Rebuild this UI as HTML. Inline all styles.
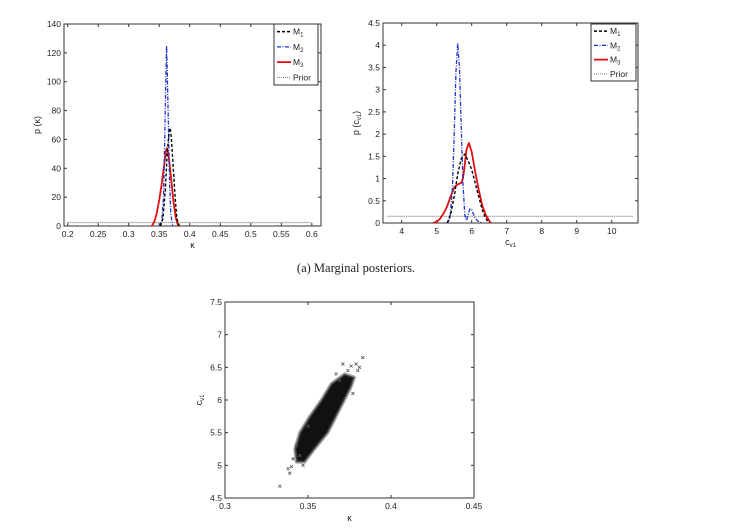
<!DOCTYPE html>
<html><head><meta charset="utf-8">
<style>
html,body{margin:0;padding:0;background:#fff;}
svg{display:block;}
text{font-family:"Liberation Sans",sans-serif;fill:#222;}
</style></head>
<body>
<svg id="fig" width="730" height="530" viewBox="0 0 730 530"></svg>
<script>
// ---- Panel 1 data (kappa marginal) ----
const k_xTicks=[0.2,0.25,0.3,0.35,0.4,0.45,0.5,0.55,0.6];
const k_xTickLabels=["0.2","0.25","0.3","0.35","0.4","0.45","0.5","0.55","0.6"];
const k_yTicks=[0,20,40,60,80,100,120,140];
const k_m1x=[0.352,0.356,0.36,0.363,0.366,0.368,0.370,0.373,0.376,0.379,0.383];
const k_m1y=[0,5,25,50,65,68,60,40,20,5,0];
const k_m2x=[0.350,0.354,0.357,0.359,0.361,0.362,0.363,0.365,0.367,0.369,0.372];
const k_m2y=[0,3,20,60,105,125,110,70,30,8,0];
const k_m3x=[0.338,0.342,0.346,0.350,0.354,0.358,0.361,0.3625,0.365,0.369,0.373,0.377,0.381];
const k_m3y=[0,3,9,18,29,42,52,54,50,35,18,6,0];
const k_priorx=[0.2,0.6];
const k_priory=[2.4,2.4];
// ---- Panel 2 data (cv1 marginal) ----
const c_xTicks=[4,5,6,7,8,9,10];
const c_yTicks=[0,0.5,1,1.5,2,2.5,3,3.5,4,4.5];
const c_m1x=[5.3,5.4,5.5,5.6,5.7,5.8,5.9,6.0,6.1,6.2,6.3,6.4,6.5];
const c_m1y=[0,0.2,0.6,1.1,1.45,1.55,1.4,1.2,0.9,0.6,0.3,0.1,0];
const c_m2x=[5.3,5.38,5.45,5.5,5.55,5.6,5.65,5.7,5.75,5.8,5.85,5.9,5.95,6.0,6.05,6.1,6.2,6.3];
const c_m2y=[0,0.1,0.8,2.0,3.4,4.05,3.5,2.2,0.9,0.2,0.05,0.2,0.32,0.3,0.2,0.1,0.03,0];
const c_m3x=[4.9,5.0,5.1,5.2,5.3,5.4,5.5,5.6,5.7,5.75,5.8,5.85,5.92,6.0,6.1,6.2,6.3,6.4,6.5,6.55];
const c_m3y=[0,0.03,0.1,0.22,0.38,0.6,0.8,0.87,0.9,1.0,1.3,1.65,1.8,1.6,1.15,0.75,0.4,0.18,0.05,0];
const c_priorx=[3.6,10.6];
const c_priory=[0.15,0.15];
// ---- Panel 3 data (joint scatter) ----
const s_xTicks=[0.3,0.35,0.4,0.45];
const s_yTicks=[4.5,5,5.5,6,6.5,7,7.5];
const s_coreK=[0.343,0.342,0.345,0.351,0.358,0.364,0.372,0.378,0.376,0.372,0.367,0.362,0.354,0.348];
const s_coreC=[5.05,5.25,5.5,5.75,6.0,6.25,6.4,6.35,6.2,6.0,5.75,5.5,5.25,5.05];
const s_ptK=[0.333,0.339,0.340,0.383,0.381,0.379,0.376,0.371,0.345,0.338,0.367,0.380,0.341,0.374,0.347,0.343,0.377,0.350,0.369];
const s_ptC=[4.68,4.88,4.98,6.65,6.5,6.55,6.52,6.55,5.15,4.95,6.4,6.45,5.1,6.45,5.0,5.3,6.1,5.6,6.3];

const NS="http://www.w3.org/2000/svg";
const svg=document.getElementById('fig');
function mk(tag,attrs,parent){const e=document.createElementNS(NS,tag);for(const k in attrs)e.setAttribute(k,attrs[k]);(parent||svg).appendChild(e);return e;}
function lin(d0,d1,r0,r1){return v=>r0+(v-d0)/(d1-d0)*(r1-r0);}

function axes(g,L,T,R,B,sx,sy,xt,xl,yt,yl,name){
  const box=mk('rect',{x:L,y:T,width:R-L,height:B-T,fill:'none',stroke:'#333','stroke-width':1},g);
  
  
  xt.forEach((v,i)=>{const x=sx(v);
    mk('line',{x1:x,y1:B,x2:x,y2:B-3,stroke:'#333'},g);
    mk('line',{x1:x,y1:T,x2:x,y2:T+3,stroke:'#333'},g);
    const t=mk('text',{x:x,y:B+11,'font-size':8.5,'text-anchor':'middle'},g);t.textContent=xl?xl[i]:String(v);
    
    });
  yt.forEach((v,i)=>{const y=sy(v);
    mk('line',{x1:L,y1:y,x2:L+3,y2:y,stroke:'#333'},g);
    mk('line',{x1:R,y1:y,x2:R-3,y2:y,stroke:'#333'},g);
    const t=mk('text',{x:L-3,y:y+3,'font-size':8.5,'text-anchor':'end'},g);t.textContent=yl?yl[i]:String(v);
    
    });
}
function curve(g,xs,ys,sx,sy,color,dash,w,name){
  const p=mk('polyline',{points:xs.map((x,i)=>sx(x)+','+sy(ys[i])).join(' '),fill:'none',stroke:color,'stroke-width':w,'stroke-dasharray':dash,'stroke-linejoin':'round'},g);
  
  
}
function legend(g,x,y,w,h,name){
  const lg=mk('g',{},g);
  
  
  mk('rect',{x:x,y:y,width:w,height:h,fill:'#fff',stroke:'#333'},lg);
  const items=[['#000','3,2',1.4,'M','1'],['#2233cc','4,1.5,1,1.5',1.2,'M','2'],['#e01010','',1.8,'M','3'],['#777','1,1',1,'Prior','']];
  const dy=h/4;
  items.forEach((it,i)=>{const yy=y+dy*(i+0.5);
    mk('line',{x1:x+3,y1:yy,x2:x+17,y2:yy,stroke:it[0],'stroke-width':it[2],'stroke-dasharray':it[1]},lg);
    const t=mk('text',{x:x+19,y:yy+3,'font-size':8.5},lg);t.textContent=it[3];
    if(it[4]){const s=mk('tspan',{'font-size':6,dy:2},t);s.textContent=it[4];}
  });
}

// Panel 1
(function(){
  const g=mk('g',{});
  const L=64,T=24,R=321,B=226;
  const sx=lin(0.194,0.615,L,R), sy=lin(0,140,B,T);
  axes(g,L,T,R,B,sx,sy,k_xTicks,k_xTickLabels,k_yTicks,null,'kappa-panel');
  curve(g,k_priorx,k_priory,sx,sy,'#777','1,1',1.2,'prior-curve');
  curve(g,k_m3x,k_m3y,sx,sy,'#e01010','',1.8,'m3-curve');
  curve(g,k_m2x,k_m2y,sx,sy,'#2233cc','4,1.5,1,1.5',1.3,'m2-curve');
  curve(g,k_m1x,k_m1y,sx,sy,'#000','3,2',1.4,'m1-curve');
  legend(g,274,24,44,61,'kappa-legend');
  const xl=mk('text',{x:(L+R)/2,y:B+22,'font-size':9,'text-anchor':'middle'},g);xl.textContent='κ';
  
  const yl=mk('text',{x:0,y:0,'font-size':9,'text-anchor':'middle',transform:'translate(40,'+(T+B)/2+') rotate(-90)'},g);yl.textContent='p (κ)';
  
})();

// Panel 2
(function(){
  const g=mk('g',{});
  const L=383,T=23,R=638,B=223;
  const sx=lin(3.466,10.75,L,R), sy=lin(0,4.5,B,T);
  axes(g,L,T,R,B,sx,sy,c_xTicks,null,c_yTicks,null,'cv1-panel');
  curve(g,c_priorx,c_priory,sx,sy,'#777','1,1',1.2,'prior-curve');
  curve(g,c_m3x,c_m3y,sx,sy,'#e01010','',1.8,'m3-curve');
  curve(g,c_m2x,c_m2y,sx,sy,'#2233cc','4,1.5,1,1.5',1.3,'m2-curve');
  curve(g,c_m1x,c_m1y,sx,sy,'#000','3,2',1.4,'m1-curve');
  legend(g,591,24,45,57,'cv1-legend');
  const xl=mk('text',{x:(L+R)/2,y:B+22,'font-size':9,'text-anchor':'middle'},g);xl.textContent='c';
  const s=mk('tspan',{'font-size':6,dy:2},xl);s.textContent='v1';
  
  const yl=mk('text',{x:0,y:0,'font-size':9,'text-anchor':'middle',transform:'translate(359,'+(T+B)/2+') rotate(-90)'},g);yl.textContent='p (c';
  const s2=mk('tspan',{'font-size':6,dy:2},yl);s2.textContent='v1';
  const s3=mk('tspan',{dy:-2},yl);s3.textContent=')';
  
})();

// Caption a
(function(){
  const t=mk('text',{x:356,y:272,'font-size':12.5,'text-anchor':'middle',style:'font-family:"Liberation Serif",serif',fill:'#222'});
  t.textContent='(a) Marginal posteriors.';
  
})();

// Panel 3
(function(){
  const g=mk('g',{});
  const L=225,T=302,R=474,B=498;
  const sx=lin(0.3,0.45,L,R), sy=lin(4.5,7.5,B,T);
  mk('rect',{x:L,y:T,width:R-L,height:B-T,fill:'#fff'},g);
  const core=mk('polygon',{points:s_coreK.map((k,i)=>sx(k)+','+sy(s_coreC[i])).join(' '),fill:'#111',stroke:'#666','stroke-width':3,'stroke-linejoin':'round','stroke-opacity':0.6},g);
  
  s_ptK.forEach((k,i)=>{const x=sx(k),y=sy(s_ptC[i]);
    const p=mk('path',{d:`M${x-1.5},${y-1.5}L${x+1.5},${y+1.5}M${x-1.5},${y+1.5}L${x+1.5},${y-1.5}`,stroke:'#555','stroke-width':0.8},g);
    });
  axes(g,L,T,R,B,sx,sy,s_xTicks,null,s_yTicks,null,'scatter-panel');
  const xl=mk('text',{x:(L+R)/2,y:B+23,'font-size':9,'text-anchor':'middle'},g);xl.textContent='κ';
  
  const yl=mk('text',{x:0,y:0,'font-size':9,'text-anchor':'middle',transform:'translate(202,'+(T+B)/2+') rotate(-90)'},g);yl.textContent='c';
  const s=mk('tspan',{'font-size':6,dy:2},yl);s.textContent='v1';
  
})();
</script>
</body></html>
